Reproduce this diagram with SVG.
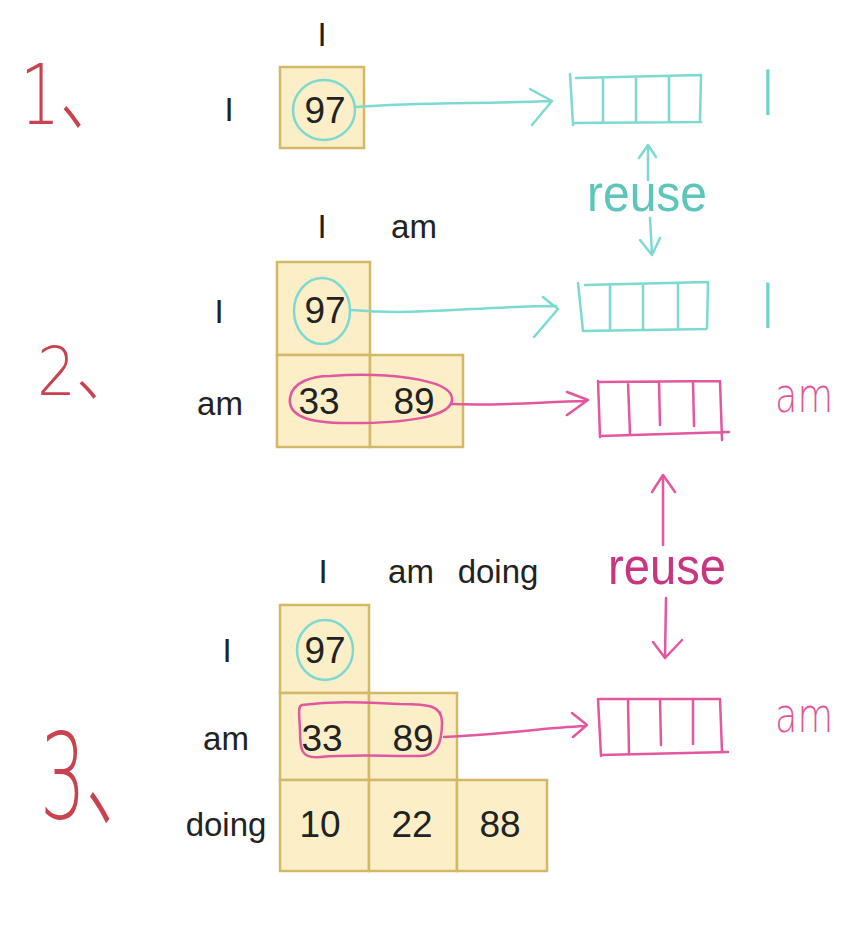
<svg xmlns="http://www.w3.org/2000/svg" width="859" height="939" viewBox="0 0 859 939">
<style>
.cell{fill:#fcefc8;stroke:#d3b967;stroke-width:2.5}
.lbl{font-family:"Liberation Sans",Arial,sans-serif;font-size:33px;fill:#222;text-anchor:middle}
.num{font-family:"Liberation Sans",Arial,sans-serif;font-size:37px;fill:#222;text-anchor:middle}
.cy{fill:none;stroke:#7cdad0;stroke-width:2.5;stroke-linecap:round;stroke-linejoin:round}
.pk{fill:none;stroke:#e2579d;stroke-width:2.5;stroke-linecap:round;stroke-linejoin:round}
.step{font-family:"DejaVu Sans","Noto Sans CJK SC",sans-serif;font-weight:200;fill:#c9434f}
.hcy{font-family:"DejaVu Sans",sans-serif;font-weight:200;fill:#6fd3c8}
.hpk{font-family:"DejaVu Sans",sans-serif;font-weight:200;fill:#e0569c}
.reuse{font-family:"Liberation Sans",Arial,sans-serif;font-size:52px}
</style>
<rect width="859" height="939" fill="#ffffff"/>

<!-- step numbers -->
<g id="step1"><text class="step" transform="translate(20,124) scale(0.75,1)" x="0" y="0" font-size="84">1、</text></g>
<g id="step2"><text class="step" transform="translate(37,395) scale(0.9,1)" x="0" y="0" font-size="68">2、</text></g>
<g id="step3"><text class="step" transform="translate(40,818) scale(0.6,1)" x="0" y="0" font-size="120">3、</text></g>

<!-- table 1 -->
<g id="table1">
  <text class="lbl" x="322" y="46">I</text>
  <text class="lbl" x="229" y="121">I</text>
  <rect class="cell" x="280" y="67" width="84" height="81"/>
  <text class="num" x="325" y="123">97</text>
  <ellipse class="cy" cx="324" cy="110" rx="31" ry="30"/>
</g>

<!-- table 2 -->
<g id="table2">
  <text class="lbl" x="322" y="238">I</text>
  <text class="lbl" x="414" y="238">am</text>
  <text class="lbl" x="219" y="323">I</text>
  <text class="lbl" x="220" y="415">am</text>
  <rect class="cell" x="277" y="262" width="93" height="93"/>
  <rect class="cell" x="277" y="355" width="93" height="92"/>
  <rect class="cell" x="370" y="355" width="93" height="92"/>
  <text class="num" x="325" y="323">97</text>
  <text class="num" x="319" y="414">33</text>
  <text class="num" x="414" y="414">89</text>
  <ellipse class="cy" cx="322" cy="311" rx="28" ry="33"/>
  <path class="pk" d="M330,376 C380,372 450,378 452,398 C454,418 400,424 340,423 C300,422 288,412 290,398 C292,382 312,376 330,376 Z"/>
</g>

<!-- table 3 -->
<g id="table3">
  <text class="lbl" x="323" y="583">I</text>
  <text class="lbl" x="411" y="583">am</text>
  <text class="lbl" x="498" y="583">doing</text>
  <text class="lbl" x="227" y="662">I</text>
  <text class="lbl" x="226" y="750">am</text>
  <text class="lbl" x="226" y="836">doing</text>
  <rect class="cell" x="280" y="605" width="89" height="88"/>
  <rect class="cell" x="280" y="693" width="89" height="87"/>
  <rect class="cell" x="369" y="693" width="88" height="87"/>
  <rect class="cell" x="280" y="780" width="89" height="91"/>
  <rect class="cell" x="369" y="780" width="88" height="91"/>
  <rect class="cell" x="457" y="780" width="90" height="91"/>
  <text class="num" x="325" y="663">97</text>
  <text class="num" x="322" y="751">33</text>
  <text class="num" x="413" y="751">89</text>
  <text class="num" x="320" y="837">10</text>
  <text class="num" x="412" y="837">22</text>
  <text class="num" x="500" y="837">88</text>
  <ellipse class="cy" cx="325" cy="650" rx="28" ry="30"/>
  <path class="pk" d="M302,705 C340,700 370,703 400,704 C430,704 442,706 442,722 C442,745 436,756 420,756 C380,756 350,754 320,757 C300,759 300,748 300,730 C299,712 298,706 302,705 Z"/>
</g>

<!-- arrays -->
<g id="array1">
  <path class="cy" d="M570,74 L573,125 M576,78 L701,75 M701,75 L700,120 M575,123 L701,122 M603,78 L603,122 M636,77 L636,121 M669,77 L669,121"/>
  <text class="hcy" x="768" y="115" font-size="62" text-anchor="middle">I</text>
</g>
<g id="array2">
  <path class="cy" d="M578,283 L583,331 M585,285 L708,282 M708,282 L707,328 M583,331 L706,329 M610,285 L610,329 M643,284 L643,329 M678,284 L678,328"/>
  <text class="hcy" x="768" y="328" font-size="62" text-anchor="middle">I</text>
</g>
<g id="array3">
  <path class="pk" d="M598,381 L600,437 M600,382 L720,381 M720,381 L722,440 M601,436 L729,432 M628,382 L630,434 M659,382 L660,425 M693,382 L694,426"/>
  <text class="hpk" x="775" y="412" font-size="48" textLength="58" lengthAdjust="spacingAndGlyphs">am</text>
</g>
<g id="array4">
  <path class="pk" d="M598,699 L601,756 M600,699 L720,699 M720,699 L722,752 M601,755 L728,752 M628,700 L629,754 M660,700 L661,745 M693,700 L693,744"/>
  <text class="hpk" x="775" y="732" font-size="48" textLength="58" lengthAdjust="spacingAndGlyphs">am</text>
</g>

<!-- reuse labels -->
<g id="reuse1"><text class="reuse" x="647" y="211" text-anchor="middle" fill="#5ec6b9" textLength="120" lengthAdjust="spacingAndGlyphs">reuse</text></g>
<g id="reuse2"><text class="reuse" x="667" y="584" text-anchor="middle" fill="#c8367f" textLength="118" lengthAdjust="spacingAndGlyphs">reuse</text></g>

<!-- connectors -->
<g id="connectors">
  <path class="cy" d="M356,107 C420,102 480,104 552,101 M530,89 L552,101 L532,125"/>
  <path class="cy" d="M352,310 C420,316 480,306 556,306 M543,297 L558,309 L534,337"/>
  <path class="pk" d="M452,404 C500,406 540,402 586,401 M567,392 L588,400 L567,415"/>
  <path class="pk" d="M444,737 C500,735 540,728 585,726 M572,713 L587,725 L573,737"/>
  <path class="cy" d="M648,180 L648,146 M639,158 L648,145 L656,157"/>
  <path class="cy" d="M650,218 L652,254 M640,240 L652,255 L660,238"/>
  <path class="pk" d="M663,545 L663,476 M652,492 L663,475 L675,492"/>
  <path class="pk" d="M666,598 L665,657 M653,642 L665,658 L682,640"/>
</g>
</svg>
